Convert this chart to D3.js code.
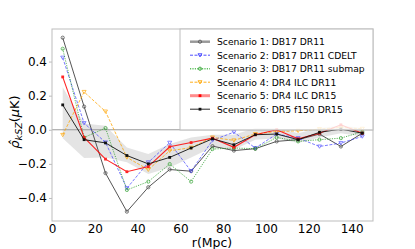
<!DOCTYPE html>
<html><head><meta charset="utf-8">
<script src="https://cdn.jsdelivr.net/npm/d3@7/dist/d3.min.js"></script>
<style>body{margin:0;background:#fff}svg{display:block;font-family:"DejaVu Sans",sans-serif}</style>
</head><body><svg id="c" width="415" height="249"></svg>
<script>
const rValues = [5,15,25,35,45,55,65,75,85,95,105,115,125,135,145];
const scenarioNames = ["Scenario 1: DB17 DR11","Scenario 2: DB17 DR11 CDELT","Scenario 3: DB17 DR11 submap","Scenario 4: DR4 ILC DR11","Scenario 5: DR4 ILC DR15","Scenario 6: DR5 f150 DR15"];
const s1 = [0.54,0.136,-0.254,-0.48,-0.337,-0.233,-0.243,-0.096,-0.122,-0.111,-0.068,-0.058,-0.025,-0.098,-0.02];
const s2 = [0.423,0.039,-0.074,-0.343,-0.191,-0.076,-0.243,-0.062,-0.014,-0.107,-0.025,-0.049,-0.098,-0.078,-0.039];
const s3 = [0.475,-0.045,0.01,-0.353,-0.304,-0.201,-0.304,-0.113,-0.107,-0.111,-0.045,-0.068,-0.058,-0.049,-0.012];
const s4 = [-0.03,0.222,0.107,-0.162,-0.234,-0.123,-0.105,-0.045,-0.062,-0.025,-0.01,-0.006,0.004,0.014,0.006];
const s5 = [0.31,-0.045,-0.172,-0.246,-0.216,-0.1,-0.075,-0.049,-0.103,-0.029,0.0,-0.053,-0.02,0.029,-0.02];
const s6 = [0.146,-0.058,-0.077,-0.151,-0.2,-0.162,-0.107,-0.053,-0.088,-0.029,-0.025,-0.058,-0.015,0.004,-0.02];
const bandUpper = [0.25,0.037,0.023,-0.104,-0.142,-0.084,-0.045,-0.029,-0.029,0.01,0.01,-0.02,0.01,0.025,0.01];
const bandLower = [-0.05,-0.166,-0.162,-0.191,-0.259,-0.221,-0.162,-0.103,-0.117,-0.058,-0.049,-0.078,-0.045,-0.02,-0.039];
const xTicks = [0,20,40,60,80,100,120,140];
const yTicks = [-0.4,-0.2,0.0,0.2,0.4];

const svg = d3.select("#c");
const x = d3.scaleLinear().domain([0,150]).range([52,373]);
const y = d3.scaleLinear().domain([-0.535,0.591]).range([221,29]);

// band
svg.append("path")
  .datum(rValues.map((r,i)=>({r,lo:bandLower[i],hi:bandUpper[i]})))
  .attr("fill","#d9d9d9").attr("fill-opacity",0.7)
  .attr("d", d3.area().x(d=>x(d.r)).y0(d=>y(d.lo)).y1(d=>y(d.hi)));

// zero line
svg.append("line").attr("x1",x(0)).attr("x2",x(150)).attr("y1",y(0)).attr("y2",y(0))
  .attr("stroke","#999").attr("stroke-width",1);

const series = [
  {vals:s1, color:"#4d4d4d", width:1, dash:null, marker:"circleOpen", op:0.95, lgColor:"#999", lgWidth:2.5},
  {vals:s2, color:"#3b3bff", width:0.9, dash:"3,1.5", marker:"triDown", op:0.75, lgColor:"#3b3bff", lgWidth:0.9},
  {vals:s3, color:"#1f9a1f", width:0.9, dash:"1.2,1.2", marker:"circleOpen", op:0.8, lgColor:"#5fbf5f", lgWidth:1.6},
  {vals:s4, color:"#ffa500", width:0.9, dash:"3,1.5", marker:"triDown", op:0.85, lgColor:"#ffa500", lgWidth:0.9},
  {vals:s5, color:"#ff0000", width:1.1, dash:null, marker:"dot", op:0.85, lgColor:"#ff8c8c", lgWidth:3},
  {vals:s6, color:"#111", width:0.9, dash:null, marker:"dot", op:1, lgColor:"#111", lgWidth:0.9}
];

function drawMarker(g, type, cx, cy, color){
  if(type==="circleOpen"){
    g.append("circle").attr("cx",cx).attr("cy",cy).attr("r",1.6).attr("fill","none").attr("stroke",color).attr("stroke-width",0.8);
  } else if(type==="triDown"){
    g.append("path").attr("d",`M${cx-2},${cy-1.5}L${cx+2},${cy-1.5}L${cx},${cy+1.8}Z`).attr("fill","none").attr("stroke",color).attr("stroke-width",0.8);
  } else {
    g.append("rect").attr("x",cx-1.4).attr("y",cy-1.4).attr("width",2.8).attr("height",2.8).attr("fill",color);
  }
}

const line = d3.line().x(d=>x(d[0])).y(d=>y(d[1]));
series.forEach(s=>{
  const g = svg.append("g").attr("opacity",s.op);
  const pts = rValues.map((r,i)=>[r,s.vals[i]]);
  g.append("path").datum(pts).attr("d",line).attr("fill","none")
    .attr("stroke",s.color).attr("stroke-width",s.width)
    .attr("stroke-dasharray",s.dash);
  pts.forEach(p=>drawMarker(g,s.marker,x(p[0]),y(p[1]),s.color));
});

// axes frame
const fr = "#bdbdbd";
svg.append("rect").attr("x",52).attr("y",29).attr("width",321).attr("height",192)
  .attr("fill","none").attr("stroke",fr).attr("stroke-width",1);

// x axis
const xa = svg.append("g").attr("transform","translate(0,221)")
  .call(d3.axisBottom(x).tickValues(xTicks).tickSize(0).tickPadding(3).tickFormat(d3.format("d")));
xa.select(".domain").remove();
xa.selectAll("text").attr("font-size",12).attr("fill","#000").attr("font-family","DejaVu Sans");

const ya = svg.append("g").attr("transform","translate(52,0)")
  .call(d3.axisLeft(y).tickValues(yTicks).tickSize(3).tickPadding(2).tickFormat(d=>d3.format(".1f")(d).replace("-","\u2212")));
ya.select(".domain").remove();
ya.selectAll("line").attr("stroke",fr);
ya.selectAll("text").attr("font-size",12).attr("fill","#000").attr("font-family","DejaVu Sans");

// labels
svg.append("text").attr("x",212).attr("y",247).attr("text-anchor","middle")
  .attr("font-size",12.5).text("r(Mpc)");

const yl = svg.append("text").attr("transform","translate(19,122) rotate(-90)")
  .attr("text-anchor","middle").attr("font-size",13);
yl.append("tspan").attr("font-style","italic").text("\u03C1\u0302");
yl.append("tspan").attr("font-style","italic").attr("font-size",9.5).attr("dy",3).text("kSZ");
yl.append("tspan").attr("dy",-3).text("(");
yl.append("tspan").attr("font-style","italic").text("\u03BC");
yl.append("tspan").text("K)");

// legend
const lg = svg.append("g");
lg.append("rect").attr("x",180).attr("y",29).attr("width",193).attr("height",101)
  .attr("fill","#fff").attr("fill-opacity",0.8).attr("stroke",fr).attr("stroke-width",1);
series.forEach((s,i)=>{
  const cy = 41.7 + i*13.5;
  const gg = lg.append("g");
  gg.append("line").attr("x1",190).attr("x2",210).attr("y1",cy).attr("y2",cy)
    .attr("stroke",s.lgColor).attr("stroke-width",s.lgWidth).attr("stroke-dasharray",s.dash);
  drawMarker(gg,s.marker,200,cy,s.color);
  lg.append("text").attr("x",217).attr("y",cy+3.3).attr("font-size",9.2).text(scenarioNames[i]);
});
</script></body></html>
